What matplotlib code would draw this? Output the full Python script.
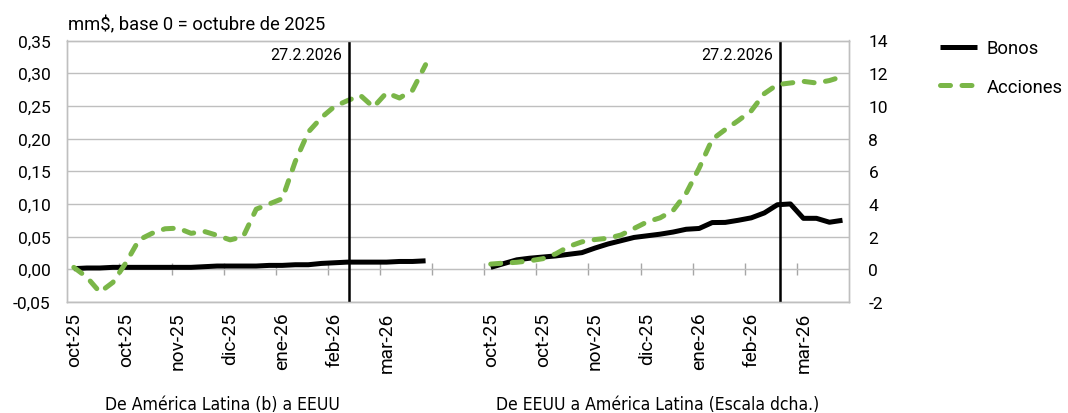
import numpy as np
import matplotlib
matplotlib.use("Agg")
import matplotlib.pyplot as plt
from matplotlib.ticker import FuncFormatter
import matplotlib.transforms as mtransforms

plt.rcParams['font.family'] = ['Roboto', 'DejaVu Sans']

# weekly data, two blocks on one category axis
labels_months = ['oct-25', 'oct-25', 'nov-25', 'dic-25', 'ene-26', 'feb-26', 'mar-26']

# De América Latina a EEUU (left scale, mm$)
latam_bonos = [0.001, 0.002, 0.002, 0.003, 0.003, 0.003, 0.003, 0.003, 0.003, 0.003,
               0.004, 0.005, 0.005, 0.005, 0.005, 0.006, 0.006, 0.007, 0.007, 0.009,
               0.010, 0.011, 0.011, 0.011, 0.011, 0.012, 0.012, 0.013]
latam_acciones = [0.003, -0.012, -0.035, -0.020, 0.010, 0.045, 0.055, 0.062, 0.063, 0.055,
                  0.058, 0.052, 0.045, 0.050, 0.092, 0.100, 0.108, 0.165, 0.210, 0.232,
                  0.249, 0.258, 0.266, 0.248, 0.270, 0.262, 0.274, 0.313]

# De EEUU a América Latina (right scale)
eeuu_bonos = [0.12, 0.35, 0.58, 0.68, 0.75, 0.82, 0.92, 1.02, 1.30, 1.55,
              1.75, 1.95, 2.05, 2.15, 2.28, 2.45, 2.50, 2.86, 2.87, 3.00,
              3.15, 3.45, 3.95, 4.00, 3.12, 3.12, 2.88, 3.00]
eeuu_acciones = [0.32, 0.38, 0.43, 0.52, 0.65, 0.95, 1.40, 1.68, 1.82, 1.90,
                 2.10, 2.50, 2.90, 3.15, 3.60, 4.65, 6.20, 7.95, 8.55, 9.10,
                 9.70, 10.75, 11.30, 11.40, 11.50, 11.40, 11.55, 11.80]

left_start = 0
right_start = 32
n_categories = 60
event_left = 21.15     # 27.2.2026
event_right = 54.2

green = '#7AB648'
gray = '#BFBFBF'

fig = plt.figure(figsize=(10.68, 4.14), dpi=100)
ax = fig.add_axes([67.3 / 1068, 1 - 303 / 414, (849 - 67.3) / 1068, (303 - 41.5) / 414])
ax2 = ax.twinx()

x_left = np.arange(len(latam_bonos)) + left_start
x_right = np.arange(len(eeuu_bonos)) + right_start

dash = dict(lw=3.6, ls=(0, (2.0, 2.3)), dash_capstyle='round', color=green)

ax.plot(x_left, latam_bonos, color='black', lw=3.6, solid_capstyle='butt', label='Bonos', zorder=3)
ax.plot(x_left, latam_acciones, label='Acciones', zorder=4, **dash)
ax2.plot(x_right, eeuu_bonos, color='black', lw=3.6, solid_capstyle='butt', zorder=3)
ax2.plot(x_right, eeuu_acciones, zorder=4, **dash)

ax.set_xlim(-0.5, n_categories - 0.5)
ax.set_ylim(-0.05, 0.35)
ax2.set_ylim(-2, 14)
ax.set_yticks(np.arange(-0.05, 0.36, 0.05))
ax2.set_yticks(np.arange(-2, 15, 2))
ax.yaxis.set_major_formatter(FuncFormatter(lambda v, p: f"{v:.2f}".replace('.', ',').replace('-0,00', '0,00')))
ax2.yaxis.set_major_formatter(FuncFormatter(lambda v, p: f"{v:.0f}"))
ax.grid(axis='y', color=gray, lw=1)
ax.set_axisbelow(True)

for a in (ax, ax2):
    for s in a.spines.values():
        s.set_color(gray)
        s.set_linewidth(1)
ax.tick_params(axis='y', length=0, pad=12, labelsize=12.5)
ax2.tick_params(axis='y', length=0, pad=14, labelsize=12.5)

# month labels at the bottom
tick_pos = list(np.arange(len(labels_months)) * 4 + left_start) + \
           list(np.arange(len(labels_months)) * 4 + right_start)
ax.set_xticks(tick_pos)
ax.set_xticklabels(labels_months * 2, rotation=90, fontsize=13.8)
ax.tick_params(axis='x', length=0, pad=7)

# category axis crossing at zero with tick marks
sec = ax.secondary_xaxis(0.125)
sec.set_xticks(np.arange(4, 57, 4) - 0.5)
sec.tick_params(axis='x', direction='inout', length=9, color='#A6A6A6', width=1, labelbottom=False, labeltop=False)
for s in sec.spines.values():
    s.set_color(gray)

# event lines
trans = mtransforms.blended_transform_factory(ax.transData, ax.transAxes)
for xe in (event_left, event_right):
    ax.axvline(xe, color='black', lw=1.8, zorder=5)
    ax.text(xe - 0.55, 0.948, '27.2.2026', transform=trans, ha='right', va='center', fontsize=11.5)

fig.text(68 / 1068, 1 - 30 / 414, 'mm$, base 0 = octubre de 2025', fontsize=13.2, va='baseline', ha='left')

fig.legend(loc='upper left', bbox_to_anchor=(940 / 1068, 1 - 40 / 414), frameon=False,
           fontsize=13.2, handlelength=2.0, handletextpad=0.55, labelspacing=1.12,
           borderpad=0, borderaxespad=0)

fig.text(222 / 1068, 1 - 405 / 414, 'De América Latina (b) a EEUU', ha='center', va='center',
         fontsize=12.6, family='DejaVu Sans', fontstretch='condensed')
fig.text(658 / 1068, 1 - 405 / 414, 'De EEUU a América Latina (Escala dcha.)', ha='center', va='center',
         fontsize=12.6, family='DejaVu Sans', fontstretch='condensed')

fig.savefig('out.png', dpi=100)
